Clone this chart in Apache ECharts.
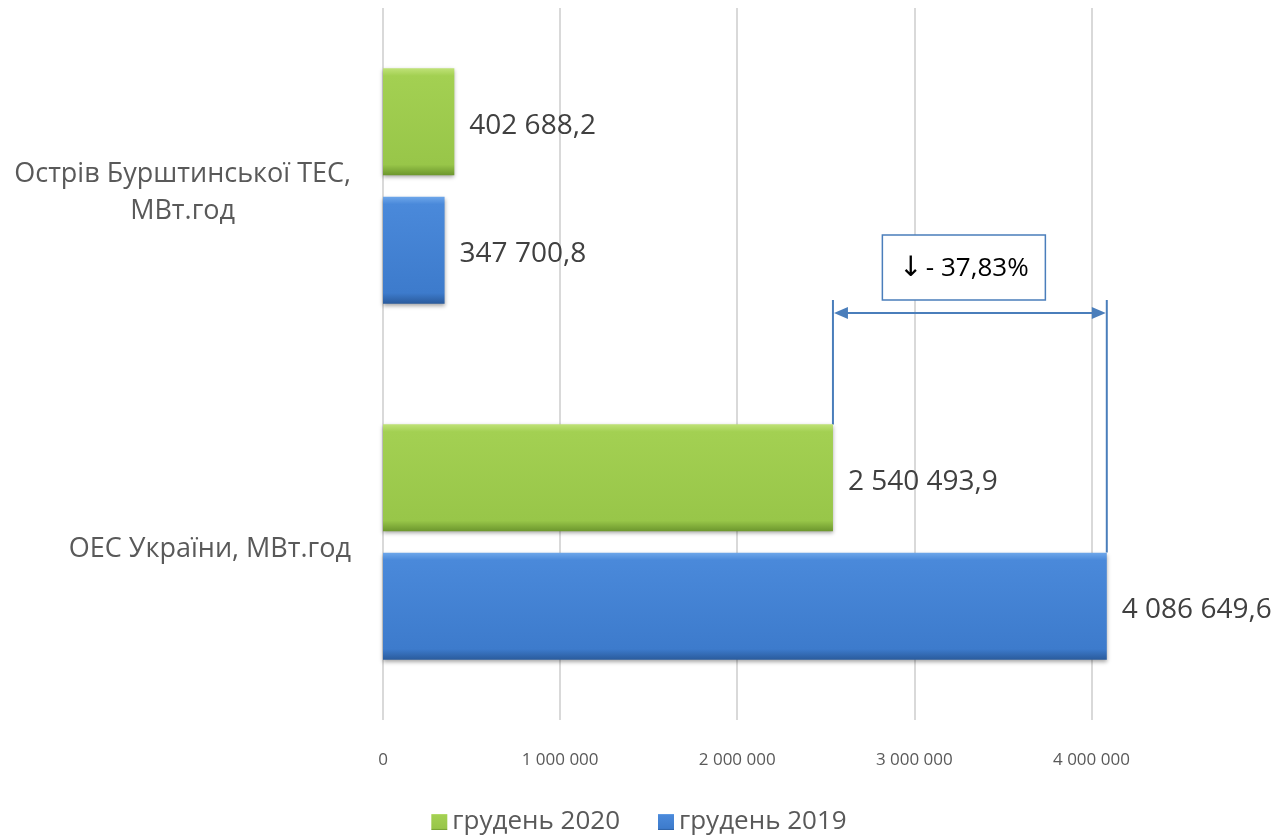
<!DOCTYPE html>
<html>
<head>
<meta charset="utf-8">
<script src="https://cdn.jsdelivr.net/npm/echarts@6/dist/echarts.min.js"></script>
<style>
  html, body { margin: 0; padding: 0; background: #fff; }
  #main { width: 1278px; height: 837px; }
</style>
</head>
<body>
<div id="main"></div>
<script>
// categories, bottom to top (category axis draws the first one at the bottom)
var categories = ['ОЕС України, МВт.год', 'Острів Бурштинської ТЕС,\nМВт.год']
var seriesNames = ['грудень 2020', 'грудень 2019']
var dec2020 = [2540493.9, 402688.2]
var dec2019 = [4086649.6, 347700.8]
var xTicks = [0, 1000000, 2000000, 3000000, 4000000]

var FONT = '"Open Sans", "Noto Sans", sans-serif'

// 4 086 649,6 style
function fmt(v, dec) {
  var s = dec ? v.toFixed(dec) : String(Math.round(v))
  var parts = s.split('.')
  var int = parts[0].replace(/\B(?=(\d{3})+(?!\d))/g, ' ')
  return parts.length > 1 ? int + ',' + parts[1] : int
}

var green = new echarts.graphic.LinearGradient(0, 0, 0, 1, [
  { offset: 0, color: '#bfe277' },
  { offset: 0.07, color: '#a3d052' },
  { offset: 0.9, color: '#98c649' },
  { offset: 1, color: '#6c962d' }
])
var blue = new echarts.graphic.LinearGradient(0, 0, 0, 1, [
  { offset: 0, color: '#6ea7ea' },
  { offset: 0.07, color: '#4a89da' },
  { offset: 0.9, color: '#3d7bcc' },
  { offset: 1, color: '#2a5b9c' }
])

var chart = echarts.init(document.getElementById('main'))

var labelStyle = {
  show: true,
  position: 'right',
  distance: 15,
  offset: [0, 4],
  fontFamily: FONT,
  fontSize: 28,
  color: '#404040',
  formatter: function (p) { return fmt(p.value, 1) }
}

var option = {
  animation: false,
  grid: {
    left: 383,
    right: 98,
    top: 8,
    bottom: 117
  },
  legend: {
    data: ['грудень 2020', 'грудень 2019'],
    top: 804,
    left: 'center',
    icon: 'rect',
    itemWidth: 16,
    itemHeight: 16,
    itemGap: 38,
    textStyle: { fontFamily: FONT, fontSize: 26, color: '#595959' }
  },
  xAxis: {
    type: 'value',
    min: 0,
    max: 4500000,
    interval: 1000000,
    axisLine: { show: false },
    axisTick: { show: false },
    axisLabel: {
      showMaxLabel: false,
      margin: 32,
      fontFamily: FONT,
      fontSize: 17,
      color: '#595959',
      formatter: function (v) { return xTicks.indexOf(v) >= 0 ? fmt(v) : '' }
    },
    splitLine: {
      show: true,
      showMaxLine: false,
      lineStyle: { color: '#d9d9d9', width: 2 }
    }
  },
  yAxis: {
    type: 'category',
    data: categories,
    axisLine: { show: false },
    axisTick: { show: false },
    axisLabel: {
      margin: 32,
      align: 'right',
      lineHeight: 37,
      padding: [14, 0, 0, 0],
      formatter: function (v) {
        return v.split('\n').map(function (s) { return '{c|' + s + '}' }).join('\n')
      },
      rich: {
        c: { align: 'center', fontFamily: FONT, fontSize: 27, color: '#595959', lineHeight: 37 }
      }
    }
  },
  series: [
    {
      name: seriesNames[0],
      type: 'bar',
      data: dec2020,
      barWidth: 107,
      barGap: '20%',
      itemStyle: { color: green, shadowColor: 'rgba(0,0,0,0.35)', shadowBlur: 4, shadowOffsetY: 2 },
      label: labelStyle
    },
    {
      name: seriesNames[1],
      type: 'bar',
      data: dec2019,
      barWidth: 107,
      barGap: '20%',
      itemStyle: { color: blue, shadowColor: 'rgba(0,0,0,0.35)', shadowBlur: 4, shadowOffsetY: 2 },
      label: labelStyle
    }
  ]
}

chart.setOption(option)

// annotation: change between the two ОЕС bars
function drawAnnotation() {
  var x1 = chart.convertToPixel({ xAxisIndex: 0 }, dec2020[0])
  var x2 = chart.convertToPixel({ xAxisIndex: 0 }, dec2019[0])
  var cy = chart.convertToPixel({ yAxisIndex: 0 }, categories[0])
  var greenTop = cy - 10.5 - 107
  var blueTop = cy + 10.5
  var arrowY = cy - 229
  var boxTop = cy - 307
  var boxH = 65
  var boxW = 163
  var mid = (x1 + x2) / 2
  var pct = (dec2020[0] - dec2019[0]) / dec2019[0] * 100
  var c = '#4a7ebb'
  var head = 14, hw = 6

  chart.setOption({
    graphic: [
      { type: 'line', shape: { x1: x1, y1: boxTop + boxH, x2: x1, y2: greenTop }, style: { stroke: c, lineWidth: 2 } },
      { type: 'line', shape: { x1: x2, y1: boxTop + boxH, x2: x2, y2: blueTop }, style: { stroke: c, lineWidth: 2 } },
      { type: 'line', shape: { x1: x1 + head, y1: arrowY, x2: x2 - head, y2: arrowY }, style: { stroke: c, lineWidth: 2 } },
      { type: 'polygon', shape: { points: [[x1 + 1, arrowY], [x1 + head + 1, arrowY - hw], [x1 + head + 1, arrowY + hw]] }, style: { fill: c } },
      { type: 'polygon', shape: { points: [[x2 - 1, arrowY], [x2 - head - 1, arrowY - hw], [x2 - head - 1, arrowY + hw]] }, style: { fill: c } },
      {
        type: 'rect',
        shape: { x: mid - boxW / 2 - 6, y: boxTop, width: boxW, height: boxH },
        style: { fill: '#fff', stroke: c, lineWidth: 1.5 },
        z: 100
      },
      {
        type: 'text',
        x: mid - 6,
        y: boxTop + boxH / 2 + 1,
        z: 101,
        style: {
          text: '{a|↓} {b|- ' + fmt(Math.abs(pct), 2) + '%}',
          align: 'center',
          verticalAlign: 'middle',
          rich: {
            a: { fontFamily: '"DejaVu Sans", sans-serif', fontSize: 28, fill: '#000' },
            b: { fontFamily: FONT, fontSize: 26, fill: '#000' }
          }
        }
      }
    ]
  })
}

drawAnnotation()
</script>
</body>
</html>
